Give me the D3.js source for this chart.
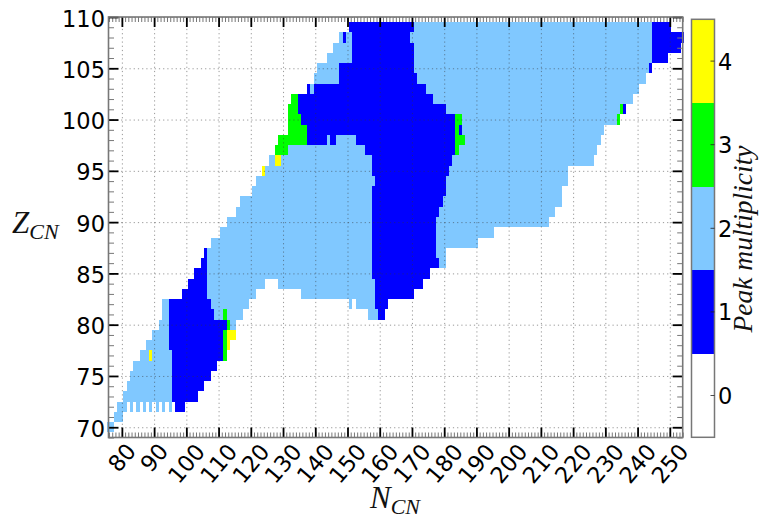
<!DOCTYPE html>
<html><head><meta charset="utf-8">
<script src="https://cdn.jsdelivr.net/npm/d3@7"></script>
<style>
html,body{margin:0;padding:0;background:#fff}
svg{display:block}
.num{font-family:"DejaVu Sans",sans-serif;font-size:22.5px;fill:#000}
.lab{font-family:"Liberation Serif",serif;font-style:italic;fill:#111}
</style></head><body>
<svg id="c" width="763" height="519"></svg>
<script>
// Runs: [Z, first N, last N]
const mult1 = [[72,97,99],[73,96,103],[74,96,105],[75,96,107],[76,96,109],[77,96,111],[78,95,111],[79,95,111],[80,95,112],[81,95,108],[81,160,161],[82,95,107],[82,159,162],[83,99,106],[83,159,170],[84,101,106],[84,159,173],[85,103,106],[85,158,175],[86,105,106],[86,158,178],[87,106,106],[87,158,177],[88,158,177],[89,158,177],[90,158,177],[91,158,178],[92,158,179],[93,158,180],[94,159,180],[95,158,181],[96,158,182],[97,156,183],[98,138,143],[98,145,146],[98,153,183],[99,138,183],[99,185,185],[100,136,183],[101,135,180],[101,236,236],[102,135,176],[103,138,138],[103,140,174],[104,148,171],[105,148,170],[105,244,244],[106,152,170],[106,245,249],[107,152,170],[107,245,253],[108,149,149],[108,152,169],[108,245,254],[109,151,170],[109,245,250]];
const mult2 = [[70,76,77],[71,78,80],[72,79,81],[72,83,83],[72,85,85],[72,87,87],[72,89,89],[72,91,91],[72,93,93],[72,95,95],[73,81,95],[74,82,95],[75,83,95],[76,84,95],[77,86,88],[77,90,95],[78,88,94],[79,90,94],[80,92,94],[80,114,115],[81,93,94],[81,109,111],[81,113,117],[81,157,159],[82,93,94],[82,108,119],[82,151,151],[82,153,158],[83,107,121],[83,136,158],[84,107,124],[84,129,158],[85,107,157],[86,107,157],[86,179,180],[87,107,157],[87,178,180],[88,108,157],[88,178,190],[89,111,157],[89,178,195],[90,113,157],[90,178,212],[91,116,157],[91,179,214],[92,117,157],[92,180,216],[93,121,157],[93,181,216],[94,122,158],[94,181,218],[95,125,157],[95,182,218],[96,126,127],[96,130,157],[96,183,226],[97,132,155],[97,185,227],[98,144,144],[98,147,152],[98,187,228],[99,186,229],[100,186,233],[101,181,234],[102,177,238],[103,139,139],[103,175,240],[104,140,147],[104,172,242],[105,141,147],[105,171,243],[106,144,151],[106,171,244],[107,146,151],[107,171,244],[108,148,148],[108,150,151],[108,170,244],[109,171,244]];
const mult3 = [[77,112,112],[78,112,112],[79,112,112],[80,113,113],[81,112,112],[97,128,131],[97,184,184],[98,129,137],[98,184,186],[99,132,137],[99,184,184],[100,132,135],[100,184,185],[100,234,234],[101,132,134],[101,235,235],[102,133,134]];
const mult4 = [[77,89,89],[78,113,113],[79,113,115],[95,124,124],[96,128,129]];
const xTicks = [80,90,100,110,120,130,140,150,160,170,180,190,200,210,220,230,240,250];
const yTicks = [70,75,80,85,90,95,100,105,110];
const barLevels = [0,1,2,3,4];
const barColors = ["#ffffff","#0000ff","#80c8ff","#00ff00","#ffff00"];

const L=108.5,R=682.7,T=17,B=437.5;
const x=d3.scaleLinear().domain([75.85,254]).range([L,R]);
const y=d3.scaleLinear().domain([110,69]).range([T,B]);
const svg=d3.select("#c");
const color=d3.scaleOrdinal().domain(barLevels).range(barColors);

const cells=svg.append("g").attr("shape-rendering","crispEdges");
[[1,mult1],[2,mult2],[3,mult3],[4,mult4]].forEach(([v,runs])=>{
  cells.selectAll(null).data(runs).join("rect")
    .attr("x",d=>x(d[1]-.5)).attr("y",d=>y(d[0]+.5))
    .attr("width",d=>x(d[2]+.5)-x(d[1]-.5))
    .attr("height",d=>y(d[0]-.5)-y(d[0]+.5))
    .attr("fill",color(v));
});

// grid
const gridStyle=g=>{g.select(".domain").remove();
  g.selectAll(".tick line").attr("stroke","#333").attr("stroke-opacity",.5).attr("stroke-width",1).attr("stroke-dasharray","1.2 3");
  g.selectAll("text").remove();};
svg.append("g").attr("transform",`translate(0,${B})`).call(d3.axisBottom(x).tickValues(xTicks).tickSize(-(B-T))).call(gridStyle);
svg.append("g").attr("transform",`translate(${L},0)`).call(d3.axisLeft(y).tickValues(yTicks).tickSize(-(R-L))).call(gridStyle);

// minor + major ticks
const minorX=d3.range(76,255), minorY=d3.range(69,111);
const tickStyle=(g,col,w)=>{g.select(".domain").remove();
  g.selectAll(".tick line").attr("stroke",col).attr("stroke-width",w);
  g.selectAll("text").remove();};
const drawTicks=(axis,tr,vals,len,col,w)=>svg.append("g").attr("transform",tr)
  .call(axis.tickValues(vals).tickSize(-len)).call(g=>tickStyle(g,col,w));
drawTicks(d3.axisBottom(x),`translate(0,${B})`,minorX,5,"#777",1);
drawTicks(d3.axisTop(x),`translate(0,${T})`,minorX,5,"#777",1);
drawTicks(d3.axisLeft(y),`translate(${L},0)`,minorY,5.5,"#777",1);
drawTicks(d3.axisRight(y),`translate(${R},0)`,minorY,5.5,"#777",1);
drawTicks(d3.axisBottom(x),`translate(0,${B})`,xTicks,10,"#000",1.8);
drawTicks(d3.axisTop(x),`translate(0,${T})`,xTicks,10,"#000",1.8);
drawTicks(d3.axisLeft(y),`translate(${L},0)`,yTicks,10,"#000",1.8);
drawTicks(d3.axisRight(y),`translate(${R},0)`,yTicks,10,"#000",1.8);

svg.append("rect").attr("x",L).attr("y",T).attr("width",R-L).attr("height",B-T)
  .attr("fill","none").attr("stroke","#777").attr("stroke-width",1.6);

// tick labels
xTicks.forEach(t=>{
  const cy=String(t).length===2?457.5:463.5;
  svg.append("text").attr("class","num").attr("text-anchor","middle").attr("dominant-baseline","central")
    .attr("transform",`translate(${x(t)},${cy}) rotate(-50)`).text(t);
});
yTicks.forEach(t=>{
  svg.append("text").attr("class","num").attr("text-anchor","end").attr("dominant-baseline","central")
    .attr("x",105).attr("y",y(t)+1.5).text(t);
});

// colour bar
const bx0=691.5,bx1=714.5,bT=19.3,bB=437.3;
const by=d3.scaleLinear().domain([-.5,4.5]).range([bB,bT]);
svg.append("g").attr("shape-rendering","crispEdges").selectAll("rect").data(barLevels).join("rect")
  .attr("x",bx0).attr("width",bx1-bx0).attr("y",d=>by(d+.5)).attr("height",d=>by(d-.5)-by(d+.5)).attr("fill",d=>color(d));
svg.append("rect").attr("x",bx0).attr("y",bT).attr("width",bx1-bx0).attr("height",bB-bT)
  .attr("fill","none").attr("stroke","#777").attr("stroke-width",1.5);
barLevels.forEach(v=>{
  svg.append("line").attr("x1",bx1-4).attr("x2",bx1).attr("y1",by(v)).attr("y2",by(v)).attr("stroke","#222").attr("stroke-width",.8);
  svg.append("text").attr("class","num").attr("x",718).attr("y",by(v)+.5).attr("dominant-baseline","central").text(v);
});

// axis titles
const sub=(t,txt,main,dx,dy)=>{t.append("tspan").attr("font-size",31).text(main);
  t.append("tspan").attr("font-size",22).attr("dy",dy).attr("dx",dx).text(txt);};
svg.append("text").attr("class","lab").attr("x",12).attr("y",233).call(sub,"CN","Z",0,6);
svg.append("text").attr("class","lab").attr("x",370).attr("y",508).call(sub,"CN","N",0,6);
svg.append("text").attr("class","lab").attr("font-size",27.5).attr("text-anchor","middle")
  .attr("transform","translate(752,239) rotate(-90)").text("Peak multiplicity");
</script>
</body></html>
